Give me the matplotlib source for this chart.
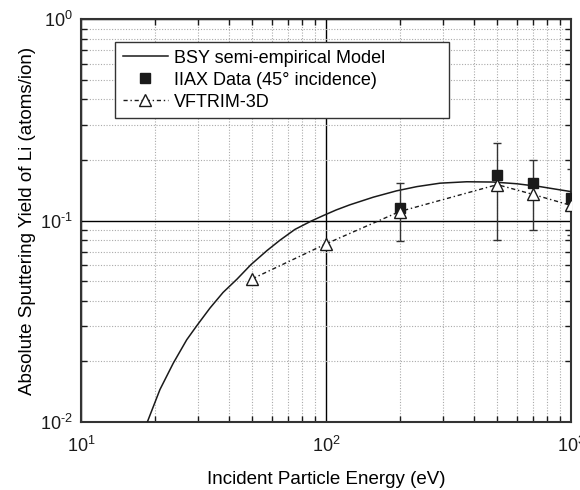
import matplotlib.pyplot as plt
import numpy as np
from matplotlib.lines import Line2D
from matplotlib.ticker import FuncFormatter

plt.rcParams['font.family'] = ['Liberation Sans', 'DejaVu Sans']
plt.rcParams['mathtext.fontset'] = 'custom'
plt.rcParams['mathtext.rm'] = 'Liberation Sans'
plt.rcParams['mathtext.it'] = 'Liberation Sans'

# BSY semi-empirical model
bsy_energy = [18.65, 21.0, 23.8, 27.0, 29.7, 33.6, 38.0, 43.3, 49.4, 57.4,
              64.9, 74.7, 87.7, 97.5, 110, 125, 156, 194, 235, 292, 375,
              482, 600, 747, 902, 1000]
bsy_yield = [0.0100, 0.0145, 0.0196, 0.0256, 0.0301, 0.0368, 0.0440, 0.0512,
             0.0605, 0.0710, 0.0800, 0.0905, 0.1000, 0.1060, 0.1130, 0.1198,
             0.1308, 0.1406, 0.1476, 0.1535, 0.1560, 0.1555, 0.1525, 0.1476,
             0.1422, 0.1394]

# IIAX data (45 deg incidence)
iiax_energy = [200, 500, 700, 1000]
iiax_yield = [0.116, 0.169, 0.154, 0.130]
iiax_upper = [0.154, 0.243, 0.199, 0.181]
iiax_lower = [0.0794, 0.080, 0.090, 0.085]

# VFTRIM-3D
vf_energy = [50, 100, 200, 500, 700, 1000]
vf_yield = [0.0514, 0.0767, 0.111, 0.151, 0.135, 0.119]

ink = '#1a1a1a'


def pow10(v, pos):
    e = int(round(np.log10(v)))
    if e < 0:
        return r'$10^{\text{-}%d}$' % (-e)
    return r'$10^{%d}$' % e


fig = plt.figure(figsize=(5.8, 4.9), dpi=100)
ax = fig.add_axes([0.1397, 0.1388, 0.8448, 0.8218])

h_bsy, = ax.plot(bsy_energy, bsy_yield, '-', color=ink, lw=1.1, zorder=4)

err = [np.array(iiax_yield) - np.array(iiax_lower),
       np.array(iiax_upper) - np.array(iiax_yield)]
ax.errorbar(iiax_energy, iiax_yield, yerr=err, fmt='s', color=ink, ms=6.5,
            ecolor='#333333', elinewidth=1.0, capsize=3, capthick=1.0,
            zorder=5)
h_iiax = Line2D([], [], ls='none', marker='s', ms=6.5, color=ink)

h_vf, = ax.plot(vf_energy, vf_yield, color=ink, lw=1.0, dashes=(3, 2, 1, 2),
                marker='^', ms=8, mfc='white', mec=ink, mew=1.0, zorder=6)

ax.set_xscale('log')
ax.set_yscale('log')
ax.set_xlim(10, 1000)
ax.set_ylim(0.01, 1)
ax.xaxis.set_major_formatter(FuncFormatter(pow10))
ax.yaxis.set_major_formatter(FuncFormatter(pow10))

ax.grid(which='major', color='black', lw=1.0, ls='-')
ax.grid(which='minor', color='#aaaaaa', lw=0.8, ls=(0, (1, 1.5)))
ax.set_axisbelow(True)

ax.tick_params(which='both', direction='in', top=True, right=True,
               colors=ink, labelsize=13)
ax.tick_params(which='major', length=0, width=1.2)
ax.tick_params(which='minor', length=4, width=1.0)
ax.tick_params(axis='x', pad=10)
ax.tick_params(axis='y', pad=6)
for s in ax.spines.values():
    s.set_linewidth(1.5)
    s.set_color('#333333')

ax.set_xlabel('Incident Particle Energy (eV)', fontsize=13.5, labelpad=11)
ax.set_ylabel('Absolute Sputtering Yield of Li (atoms/ion)', fontsize=13.5,
              labelpad=3)

leg = ax.legend([h_bsy, h_iiax, h_vf],
                ['BSY semi-empirical Model', 'IIAX Data (45° incidence)',
                 'VFTRIM-3D'],
                loc='upper left', bbox_to_anchor=(0.0694, 0.9436, 0.682, 0.0),
                mode='expand', fontsize=13, frameon=True, fancybox=False,
                edgecolor='#333333', framealpha=1, borderpad=0.42,
                labelspacing=0.28, handlelength=2.5, handletextpad=0.35,
                borderaxespad=0)
leg.get_frame().set_linewidth(1.0)

fig.savefig('out.png', dpi=100)
